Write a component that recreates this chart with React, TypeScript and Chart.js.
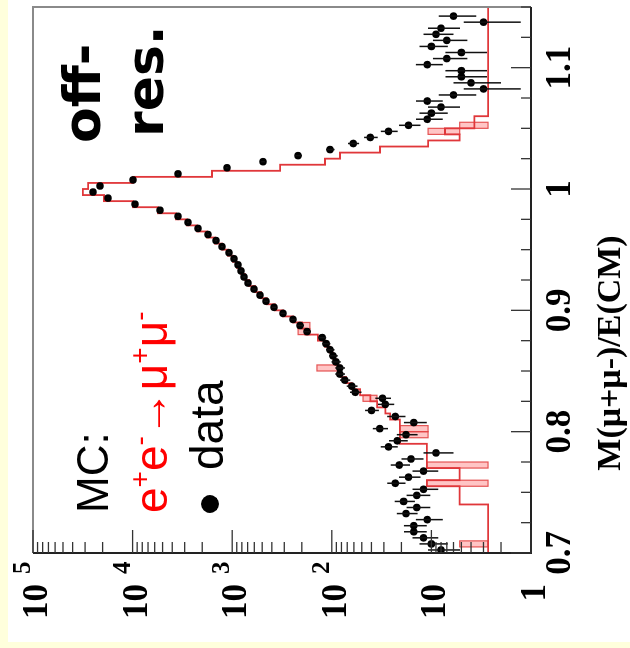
import React, { useEffect, useRef } from "react";
import { Chart, registerables } from "chart.js";
Chart.register(...registerables);

// Histogram binning of M(mu+mu-)/E(CM)
const BIN_START = 0.7;
const BIN_WIDTH = 0.005;
const X_MIN = 0.7;
const X_MAX = 1.15;
const Y_MIN = 1;
const Y_MAX = 100000;

// data counts per bin (90 bins)
const dataCounts: (number | null)[] = [
  8, 10, 12, 15, 15, 11, 18, 14, 19, 14,
  12, 23, 17, 12, 21, 16, 9, 27, 22, 18,
  33, 15, 23, 40, 29, 31, 58, 63, 74, 83,
  83, 91, 97, 104, 114, 125, 177, 208, 245, 309,
  380, 458, 526, 604, 694, 762, 817, 875, 959, 1076,
  1265, 1455, 1749, 2203, 2778, 3500, 5309, 9460, 17660, 25000,
  21240, 9910, 3500, 1127, 491, 218, 104, 61, 41, 27,
  17, 11, 10, 8, 11, 6, 3, 4, 5, 5,
  11, 7, 5, 10, 7, 9, 8, 3, 6, null,
];

// MC e+e- -> mu+mu- per bin (90 bins)
const mcCounts: number[] = [
  2.7, 2.7, 2.7, 2.7, 2.7, 2.7, 2.7, 2.7, 5.2, 5.2,
  5.2, 11.1, 5.2, 5.2, 11.1, 11.1, 11.1, 11.1, 20.7, 20.7,
  20.7, 20.7, 26, 29, 35, 41, 52, 63, 72, 81,
  87, 91, 97, 104, 117, 138, 184, 199, 245, 309,
  372, 448, 514, 590, 678, 745, 817, 895, 982, 1102,
  1265, 1489, 1791, 2255, 2844, 3665, 5560, 9910, 19360, 31500,
  28000, 9910, 1596, 331, 117, 82.7, 32.8, 10.8, 5.2, 7.3,
  3.7, 3.7, 2.7, 2.7, 2.7, 2.7, 2.7, 2.7, 2.7, 2.7,
  2.7, 2.7, 2.7, 2.7, 2.7, 2.7, 2.7, 2.7, 2.7, 2.7,
];

// MC uncertainty boxes
const mcBoxBins = [1, 11, 14, 19, 20, 25, 30, 36, 37, 69, 70];
const mcBoxLow = [2.7, 2.7, 2.7, 10.8, 10.8, 35.2, 82.7, 166, 166, 5.2, 2.7];
const mcBoxHigh = [5.2, 11.1, 11.1, 20.7, 20.7, 48.6, 141, 218, 218, 10.8, 5.2];

// axis ticks
const massTicks = [0.7, 0.8, 0.9, 1.0, 1.1];
const massTickLabels = ["0.7", "0.8", "0.9", "1", "1.1"];
const MASS_MINOR_STEP = 0.025;
const logTicks = [1, 10, 100, 1000, 10000, 100000];
const logTickBase = ["1", "10", "10", "10", "10", "10"];
const logTickExp = ["", "", "2", "3", "4", "5"];

const AXIS_TITLE = "M(\u03bc+\u03bc-)/E(CM)";

const W = 648;
const H = 630;

const overlayPlugin = {
  id: "overlay",
  beforeDraw(chart: any) {
    const ctx = chart.ctx;
    ctx.save();
    ctx.fillStyle = "#FFFFDC";
    ctx.fillRect(0, 0, W, H);
    ctx.fillStyle = "#FFFFFF";
    ctx.fillRect(6, 8, W - 6, H - 8);
    ctx.restore();
  },
  beforeDatasetsDraw(chart: any) {
    const ctx = chart.ctx;
    const xs = chart.scales.x;
    const ys = chart.scales.y;
    ctx.save();
    mcBoxBins.forEach((b, k) => {
      const x0 = xs.getPixelForValue(BIN_START + b * BIN_WIDTH);
      const x1 = xs.getPixelForValue(BIN_START + (b + 1) * BIN_WIDTH);
      const y0 = ys.getPixelForValue(mcBoxLow[k]);
      const y1 = ys.getPixelForValue(mcBoxHigh[k]);
      ctx.fillStyle = "rgba(255,150,150,0.55)";
      ctx.fillRect(x0, y1, x1 - x0, y0 - y1);
      ctx.strokeStyle = "rgba(225,60,60,0.85)";
      ctx.lineWidth = 1.2;
      ctx.strokeRect(x0, y1, x1 - x0, y0 - y1);
    });
    ctx.restore();
  },
  afterDatasetsDraw(chart: any) {
    const ctx = chart.ctx;
    const xs = chart.scales.x;
    const ys = chart.scales.y;
    const ca = chart.chartArea;
    ctx.save();
    ctx.strokeStyle = "#111";
    ctx.lineWidth = 1.5;
    dataCounts.forEach((n, i) => {
      if (n === null) return;
      const err = Math.sqrt(n);
      const px = xs.getPixelForValue(BIN_START + (i + 0.5) * BIN_WIDTH);
      const lo = n - err;
      const yLo = lo > Y_MIN ? ys.getPixelForValue(lo) : ca.bottom;
      const yHi = ys.getPixelForValue(n + err);
      ctx.beginPath();
      ctx.moveTo(px, yLo);
      ctx.lineTo(px, yHi);
      ctx.stroke();
    });
    ctx.restore();
  },
  afterDraw(chart: any) {
    const ctx = chart.ctx;
    const xs = chart.scales.x;
    const ys = chart.scales.y;
    const ca = chart.chartArea;
    ctx.save();
    // frame
    ctx.lineWidth = 2;
    ctx.strokeStyle = "#8a8a8a";
    ctx.beginPath();
    ctx.moveTo(ca.left, ca.top);
    ctx.lineTo(ca.right, ca.top);
    ctx.lineTo(ca.right, ca.bottom);
    ctx.stroke();
    ctx.strokeStyle = "#222";
    ctx.beginPath();
    ctx.moveTo(ca.left, ca.top);
    ctx.lineTo(ca.left, ca.bottom);
    ctx.lineTo(ca.right, ca.bottom);
    ctx.stroke();

    // log axis ticks
    ctx.lineWidth = 1.3;
    ctx.strokeStyle = "#333";
    for (let d = 0; d < logTicks.length; d++) {
      for (let m = 1; m <= 9; m++) {
        const v = logTicks[d] * m;
        if (v > Y_MAX) break;
        const py = ys.getPixelForValue(v);
        const len = m === 1 ? 23 : 11;
        ctx.beginPath();
        ctx.moveTo(ca.left, py);
        ctx.lineTo(ca.left + len, py);
        ctx.stroke();
      }
    }
    // mass axis ticks
    const nMinor = Math.round((X_MAX - X_MIN) / MASS_MINOR_STEP);
    for (let k = 0; k <= nMinor; k++) {
      const m = X_MIN + k * MASS_MINOR_STEP;
      const px = xs.getPixelForValue(m);
      const major = k % 4 === 0;
      ctx.beginPath();
      ctx.moveTo(px, ca.bottom);
      ctx.lineTo(px, ca.bottom - (major ? 20 : 10));
      ctx.stroke();
    }

    // tick labels
    ctx.fillStyle = "#000";
    ctx.textBaseline = "alphabetic";
    ctx.font = "bold 35px 'Liberation Serif'";
    ctx.textAlign = "center";
    massTicks.forEach((t, k) => {
      ctx.fillText(massTickLabels[k], xs.getPixelForValue(t), ca.bottom + 39);
    });
    logTicks.forEach((t, k) => {
      const py = ys.getPixelForValue(t);
      ctx.font = "bold 35px 'Liberation Serif'";
      ctx.textAlign = "right";
      ctx.fillText(logTickBase[k], 64, py + 14);
      if (logTickExp[k]) {
        ctx.font = "bold 25px 'Liberation Serif'";
        ctx.textAlign = "left";
        ctx.fillText(logTickExp[k], 74, py - 3);
      }
    });

    // axis title
    ctx.font = "bold 34px 'Liberation Serif'";
    ctx.textAlign = "center";
    ctx.fillText(AXIS_TITLE, 295, 620);

    // legend
    ctx.textAlign = "left";
    ctx.font = "44px 'Liberation Sans'";
    ctx.fillStyle = "#000";
    ctx.fillText("MC:", 135, 108);

    ctx.fillStyle = "#FF0000";
    let x = 135;
    const base = 167;
    const seg = (t: string, sup: boolean) => {
      ctx.font = sup ? "28px 'Liberation Sans'" : "46px 'Liberation Sans'";
      ctx.fillText(t, x, sup ? base - 18 : base);
      x += ctx.measureText(t).width;
    };
    seg("e", false);
    seg("+", true);
    seg("e", false);
    seg("-", true);
    seg("\u2192", false);
    seg("\u03bc", false);
    seg("+", true);
    seg("\u03bc", false);
    seg("-", true);

    ctx.fillStyle = "#000";
    ctx.beginPath();
    ctx.arc(144, 210, 9, 0, Math.PI * 2);
    ctx.fill();
    ctx.font = "46px 'Liberation Sans'";
    ctx.fillText("data", 178, 223);

    // off-res.
    ctx.font = "bold 52px 'DejaVu Sans'";
    ctx.fillText("off-", 505, 100);
    ctx.fillText("res.", 511, 163);
    ctx.restore();
  },
};

export default function App() {
  const ref = useRef<HTMLCanvasElement>(null);
  useEffect(() => {
    const dataPoints: { x: number; y: number }[] = [];
    dataCounts.forEach((n, i) => {
      if (n !== null) dataPoints.push({ x: BIN_START + (i + 0.5) * BIN_WIDTH, y: n });
    });
    const mcPoints: { x: number; y: number }[] = [{ x: BIN_START, y: Y_MIN }];
    mcCounts.forEach((v, i) => {
      mcPoints.push({ x: BIN_START + i * BIN_WIDTH, y: v });
      mcPoints.push({ x: BIN_START + (i + 1) * BIN_WIDTH, y: v });
    });
    mcPoints.push({ x: BIN_START + mcCounts.length * BIN_WIDTH, y: Y_MIN });

    const chart = new Chart(ref.current!, {
      type: "scatter",
      data: {
        datasets: [
          {
            label: "data",
            data: dataPoints,
            pointRadius: 3.8,
            pointBackgroundColor: "#000",
            pointBorderWidth: 0,
            showLine: false,
            order: 0,
          },
          {
            label: "MC",
            data: mcPoints,
            showLine: true,
            pointRadius: 0,
            borderColor: "#E0373A",
            borderWidth: 1.8,
            tension: 0,
            order: 1,
          },
        ],
      },
      options: {
        animation: false,
        responsive: false,
        maintainAspectRatio: false,
        layout: { padding: { left: 95, right: 7, top: 33, bottom: 99 } },
        scales: {
          x: { type: "linear", min: X_MIN, max: X_MAX, display: false },
          y: { type: "logarithmic", min: Y_MIN, max: Y_MAX, display: false },
        },
        plugins: { legend: { display: false }, tooltip: { enabled: false } },
      },
      plugins: [overlayPlugin],
    } as any);
    return () => chart.destroy();
  }, []);
  return (
    <div
      style={{
        position: "fixed",
        left: 0,
        top: 0,
        width: W,
        height: H,
        transformOrigin: "0 0",
        transform: `translate(0px, ${W}px) rotate(-90deg)`,
      }}
    >
      <canvas ref={ref} width={W} height={H} style={{ display: "block", width: W, height: H }} />
    </div>
  );
}
